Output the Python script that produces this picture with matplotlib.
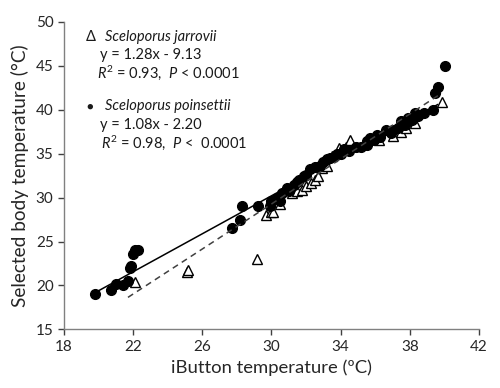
import matplotlib
matplotlib.use("Agg")
import matplotlib.pyplot as plt
import numpy as np

plt.rcParams['font.family'] = ['Lato', 'DejaVu Sans']
plt.rcParams['mathtext.fontset'] = 'custom'
plt.rcParams['mathtext.rm'] = 'Lato'
plt.rcParams['mathtext.it'] = 'Lato:italic'

# S. poinsettii (filled circles)
poin_x = [19.8, 20.7, 21.0, 21.4, 21.7, 21.8, 21.9, 22.0, 22.1, 22.3,
          27.7, 28.2, 28.3, 29.2, 29.9, 30.0, 30.3, 30.5, 30.6, 30.9, 31.0,
          31.3, 31.5, 31.6, 31.9, 32.0, 32.2, 32.5, 32.8, 33.0, 33.2, 33.4,
          33.8, 34.0, 34.2, 34.5, 34.9, 35.2, 35.5, 35.5, 35.7, 35.9, 36.1,
          36.3, 36.6, 36.9, 37.0, 37.3, 37.5, 37.7, 37.9, 38.1, 38.3, 38.5,
          38.8, 39.35, 39.45, 39.65, 40.05]
poin_y = [19.0, 19.5, 20.2, 20.1, 20.5, 22.0, 22.2, 23.6, 24.0, 24.0,
          26.5, 27.5, 29.0, 29.0, 29.0, 29.6, 30.0, 29.6, 30.5, 31.1, 30.7,
          31.4, 31.8, 32.0, 32.4, 32.6, 33.2, 33.5, 33.6, 34.1, 34.4, 34.5,
          34.9, 35.0, 35.5, 35.3, 35.8, 35.8, 36.0, 36.4, 36.8, 36.5, 37.1,
          36.9, 37.7, 37.3, 37.7, 37.9, 38.7, 38.3, 39.0, 38.8, 39.6, 39.3,
          39.6, 40.0, 41.9, 42.6, 45.0]

# S. jarrovii (open triangles)
jarr_x = [22.1, 25.1, 25.2, 29.15, 29.7, 30.0, 30.1, 30.5, 31.2, 31.5,
          31.75, 32.0, 32.3, 32.5, 32.7, 32.9, 33.2, 33.5, 33.9, 34.3, 34.55,
          36.2, 37.0, 37.5, 37.8, 38.3, 39.85]
jarr_y = [20.4, 21.5, 21.8, 23.0, 28.0, 28.3, 28.4, 29.3, 30.5, 30.7,
          30.9, 31.3, 31.6, 32.0, 32.4, 33.4, 33.6, 34.7, 35.6, 35.8, 36.6,
          36.5, 37.0, 37.5, 37.9, 38.5, 40.9]

# Regression fits
poin_fit = (1.08, -2.20)
jarr_fit = (1.28, -9.13)
poin_range = [19.8, 39.6]
jarr_range = [21.7, 39.85]

xticks = [18, 22, 26, 30, 34, 38, 42]
yticks = [15, 20, 25, 30, 35, 40, 45, 50]

fig = plt.figure(figsize=(5.0, 3.88), dpi=100)
ax = fig.add_axes([0.128, 0.151, 0.83, 0.793])

ax.plot(jarr_x, jarr_y, linestyle='none', marker='^', markersize=7,
        markerfacecolor='white', markeredgecolor='black', markeredgewidth=1.0, zorder=3)
ax.plot(poin_x, poin_y, linestyle='none', marker='o', markersize=7,
        markerfacecolor='black', markeredgecolor='black', zorder=4)

xs = np.array(poin_range)
ax.plot(xs, poin_fit[0] * xs + poin_fit[1], color='black', linewidth=1.1, zorder=5)
xs = np.array(jarr_range)
ax.plot(xs, jarr_fit[0] * xs + jarr_fit[1], color='#404040', linewidth=1.1,
        linestyle=(0, (4, 3)), zorder=5)

ax.set_xlim(18, 42)
ax.set_ylim(15, 50)
ax.set_xticks(xticks)
ax.set_yticks(yticks)
for s in ['top', 'right']:
    ax.spines[s].set_visible(False)
for s in ['left', 'bottom']:
    ax.spines[s].set_color('#808080')
    ax.spines[s].set_linewidth(1.0)
ax.tick_params(direction='out', length=4, width=1.0, color='#404040',
               labelsize=11, labelcolor='#262626')
ax.set_xlabel('iButton temperature (ºC)', fontsize=13.3, color='#262626', labelpad=4)
ax.set_ylabel('Selected body temperature (°C)', fontsize=13.7, color='#262626', labelpad=5)

tc = '#1a1a1a'
def T(x, y, s, size=10.5, **kw):
    fig.text(x / 500, 1 - y / 388, s, fontsize=size, color=tc, va='center', ha='left', **kw)

T(86, 37, 'Δ')
T(105, 37, 'Sceloporus jarrovii', style='italic')
T(100, 55, 'y = 1.28x - 9.13')
T(97, 73, r'$R^2$ = 0.93,  $P$ < 0.0001')
T(86, 106, '●', size=8)
T(105, 106, 'Sceloporus poinsettii', style='italic')
T(100, 125, 'y = 1.08x - 2.20')
T(101, 143, r'$R^2$ = 0.98,  $P$ <  0.0001')

fig.savefig('out.png', dpi=100)
